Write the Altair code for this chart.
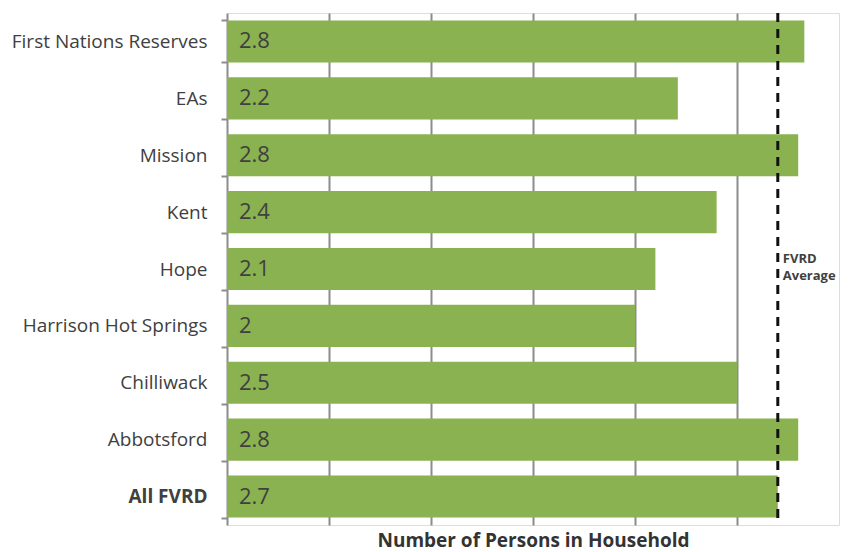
import altair as alt
import pandas as pd

categories = ["First Nations Reserves", "EAs", "Mission", "Kent", "Hope",
              "Harrison Hot Springs", "Chilliwack", "Abbotsford", "All FVRD"]
values = [2.83, 2.21, 2.8, 2.4, 2.1, 2.0, 2.5, 2.8, 2.7]
value_labels = ["2.8", "2.2", "2.8", "2.4", "2.1", "2", "2.5", "2.8", "2.7"]
fvrd_average = 2.7
grid_values = [0.5, 1.0, 1.5, 2.0, 2.5]

FONT = "Open Sans"
TXT = "#404040"
GRID = "#8c8c8c"
GREEN = "#8ab251"

df = pd.DataFrame({"cat": categories, "val": values, "lab": value_labels})
avg_df = pd.DataFrame({"avg": [fvrd_average], "cat": ["Hope"], "note": [["FVRD", "Average"]]})

y_enc = alt.Y("cat:N", sort=categories,
              scale=alt.Scale(paddingInner=0.26, paddingOuter=0.13),
              axis=alt.Axis(title=None, domainColor=GRID, domainWidth=2,
                            tickColor=GRID, tickWidth=2, tickSize=6, tickBand="extent",
                            labelFont=FONT, labelFontSize=19, labelColor=TXT,
                            labelPadding=14, labelLimit=400,
                            labelFontWeight=alt.condition("datum.value == 'All FVRD'",
                                                          alt.value("bold"), alt.value("normal")),
                            grid=False))

x_scale = alt.Scale(domain=[0, 3], nice=False, zero=True)

bars = alt.Chart(df).mark_bar(color=GREEN).encode(
    x=alt.X("val:Q", scale=x_scale,
            axis=alt.Axis(title="Number of Persons in Household", values=grid_values,
                          grid=True, gridColor=GRID, gridWidth=2, gridOpacity=1,
                          domain=False, ticks=False, labels=False,
                          titleFont=FONT, titleFontSize=19, titleFontWeight="bold",
                          titleColor="#333333", titlePadding=6)),
    y=y_enc,
)

labels = alt.Chart(df).mark_text(align="left", baseline="middle", dx=12,
                                 font=FONT, fontSize=22, color=TXT).encode(
    x=alt.X("zero:Q", scale=x_scale),
    y=alt.Y("cat:N", sort=categories),
    text="lab:N",
).transform_calculate(zero="0")

rule = alt.Chart(avg_df).mark_rule(color="#111111", strokeWidth=3, strokeDash=[9, 7]).encode(
    x=alt.X("avg:Q", scale=x_scale),
)

note = alt.Chart(avg_df).mark_text(align="left", baseline="middle", dx=5, dy=-10,
                                   font=FONT, fontSize=13, fontWeight="bold",
                                   color=TXT, lineHeight=17).encode(
    x=alt.X("avg:Q", scale=x_scale),
    y=alt.Y("cat:N", sort=categories),
    text="note",
)

chart = alt.layer(bars, labels, rule, note).properties(
    width=612, height=512,
    autosize=alt.AutoSizeParams(type="none"),
    padding={"left": 219, "top": 5, "right": 4, "bottom": 28},
).configure_view(stroke=None).configure(background="white")

chart.save("out.html", embed_options={"renderer": "svg", "actions": False})
